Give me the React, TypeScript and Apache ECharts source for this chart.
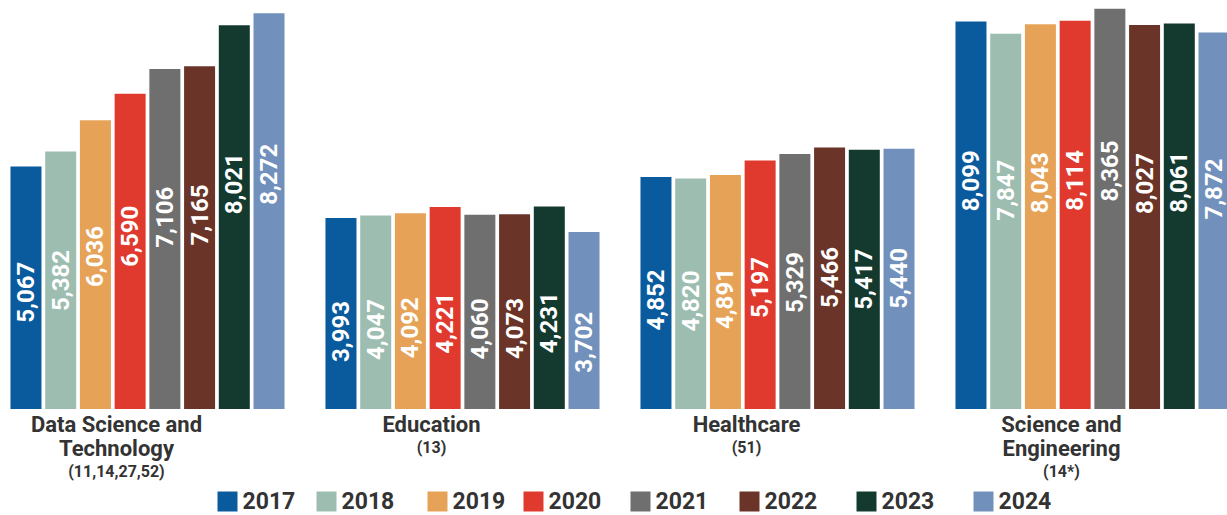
import React, { useEffect, useRef } from "react";
import * as echarts from "echarts";

const categories = ["Data Science and\nTechnology", "Education", "Healthcare", "Science and\nEngineering"];
const subLabels = ["(11,14,27,52)", "(13)", "(51)", "(14*)"];
const years = ["2017", "2018", "2019", "2020", "2021", "2022", "2023", "2024"];

const v2017 = [5067, 3993, 4852, 8099];
const v2018 = [5382, 4047, 4820, 7847];
const v2019 = [6036, 4092, 4891, 8043];
const v2020 = [6590, 4221, 5197, 8114];
const v2021 = [7106, 4060, 5329, 8365];
const v2022 = [7165, 4073, 5466, 8027];
const v2023 = [8021, 4231, 5417, 8061];
const v2024 = [8272, 3702, 5440, 7872];

const seriesValues = [v2017, v2018, v2019, v2020, v2021, v2022, v2023, v2024];
const colors = ["#0a5a9e", "#9dbdb1", "#e6a358", "#e03a2f", "#6f6f6f", "#6b3428", "#143a30", "#7190bb"];
const legendLeft = [217, 316, 427, 523, 630, 739, 856, 973];

const H = 515;
const OFFSET_X = -10.5;
const CHART_W = 1260;
const BASE_Y = 409;
const Y_MAX = 8550;
const FONT = "Roboto, 'Liberation Sans', sans-serif";

export default function App() {
  const ref = useRef<HTMLDivElement>(null);

  useEffect(() => {
    if (!ref.current) return;
    document.body.style.overflow = "hidden";
    const chart = echarts.init(ref.current, undefined, { renderer: "svg" });
    const plotH = BASE_Y;

    const series = years.map((y, si) => ({
      name: y,
      type: "bar",
      barWidth: 31,
      barGap: "12%",
      itemStyle: { color: colors[si] },
      data: seriesValues[si].map((v) => {
        const h = (v * plotH) / Y_MAX;
        const pct = ((69 + 0.233 * h) / h) * 100;
        return { value: v, label: { position: ["50%", pct.toFixed(1) + "%"] } };
      }),
      label: {
        show: true,
        rotate: 90,
        align: "center",
        verticalAlign: "middle",
        color: "#ffffff",
        fontFamily: FONT,
        fontWeight: "bold",
        fontSize: 24,
        formatter: (p: any) => Number(p.value).toLocaleString("en-US"),
      },
    }));

    chart.setOption({
      animation: false,
      backgroundColor: "#ffffff",
      grid: { left: 0, right: 0, top: 0, bottom: H - BASE_Y },
      legend: years.map((y, i) => ({
        data: [y],
        left: legendLeft[i] - OFFSET_X,
        top: 490,
        padding: 0,
        icon: "rect",
        itemWidth: 20,
        itemHeight: 20,
        itemGap: 6,
        selectedMode: false,
        textStyle: { fontFamily: FONT, fontWeight: "bold", fontSize: 23, lineHeight: 22, color: "#333333" },
      })),
      xAxis: {
        type: "category",
        data: categories,
        axisLine: { show: false },
        axisTick: { show: false },
        axisLabel: {
          margin: 3,
          interval: 0,
          padding: [0, 62, 0, 0],
          formatter: (v: string, i: number) => `{t|${v}}\n{s|${subLabels[i]}}`,
          rich: {
            t: { fontFamily: FONT, fontWeight: "bold", fontSize: 22, lineHeight: 24, color: "#333333", align: "center" },
            s: { fontFamily: FONT, fontWeight: "bold", fontSize: 16, lineHeight: 22, color: "#333333", align: "center" },
          },
        },
      },
      yAxis: { type: "value", min: 0, max: Y_MAX, show: false, splitLine: { show: false } },
      series,
    });

    return () => chart.dispose();
  }, []);

  return (
    <div
      ref={ref}
      style={{ position: "fixed", left: OFFSET_X, top: 0, width: CHART_W, height: H, background: "#fff" }}
    />
  );
}
